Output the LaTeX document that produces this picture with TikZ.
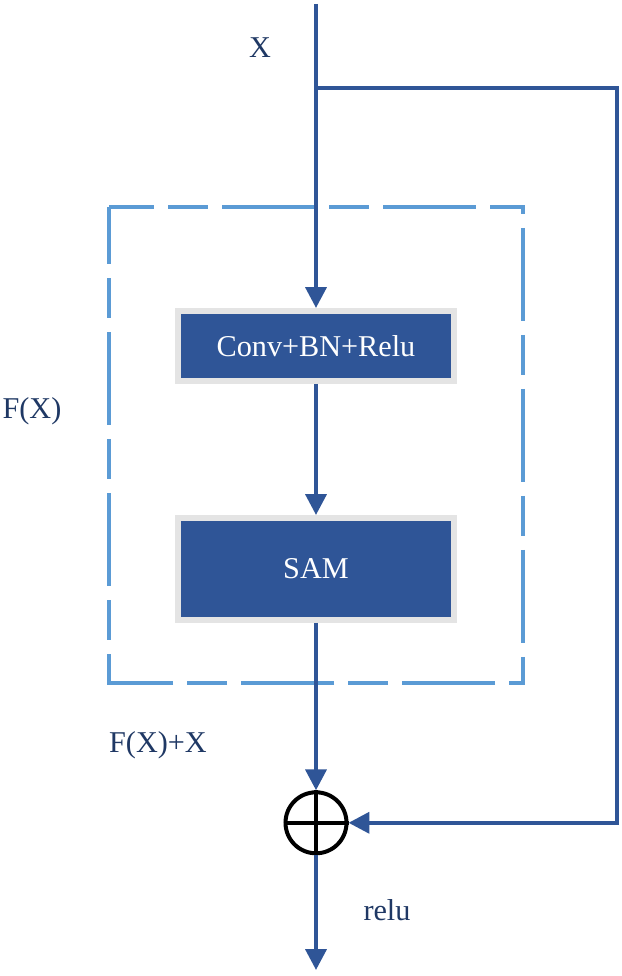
\documentclass[tikz,border=0pt]{standalone}
\usepackage{fontspec}
\setmainfont{Liberation Serif}
\usepackage{tikz}
\usetikzlibrary{positioning, arrows.meta, calc}

\definecolor{flowblue}{RGB}{47,85,151}
\definecolor{dashblue}{RGB}{91,155,213}
\definecolor{labelblue}{RGB}{31,56,100}
\definecolor{rimgray}{RGB}{228,228,228}

\begin{document}
\begin{tikzpicture}[
  >={Triangle[length=0.52cm, width=0.52cm]},
  every node/.style={font=\fontsize{21.5}{26}\selectfont},
  flow/.style={draw=flowblue, line width=2.85pt},
  layerbox/.style={rectangle, fill=flowblue, draw=rimgray, line width=0.15cm, text=white, minimum width=6.9cm},
  sumnode/.style={circle, draw=black, line width=2.85pt, minimum size=1.525cm, inner sep=0pt},
  tag/.style={text=labelblue, inner sep=0pt}
]
\useasboundingbox (0,0) rectangle (15.525,24.4);

% Block
\draw[dashblue, line width=2.5pt, dash pattern=on 2.325cm off 0.35cm on 1cm off 0.35cm, dash phase=1.2cm]
  (2.725,19.225) -- (13.075,19.225) -- (13.075,7.325) -- (2.725,7.325) -- cycle;

% Layers
\node[layerbox, minimum height=1.75cm] (conv) at (7.9,15.75) {Conv+BN+Relu};
\node[layerbox, minimum height=2.55cm] (sam) at (7.9,10.175) {SAM};
\node[sumnode] (sum) at (7.9,3.83) {};
\draw[black, line width=2.85pt] (sum.north) -- (sum.south) (sum.west) -- (sum.east);

% Input, shortcut and output
\coordinate (input) at (7.9,24.3);
\coordinate (split) at (7.9,22.2);
\coordinate (turnR) at (15.425,22.2);
\coordinate (backR) at (15.425,3.83);
\coordinate (output) at (7.9,0.15);

\draw[flow, ->] (input) -- (conv.north);
\draw[flow, ->] (conv.south) -- (sam.north);
\draw[flow, ->] (sam.south) -- (sum.north);
\draw[flow, ->, line join=miter] (split) -- (turnR) -- (backR) -- (sum.east);
\draw[flow, ->] (sum.south) -- (output);

% Labels
\node[tag] (xlab) at (6.5,23.2) {X};
\node[tag] (flab) at (0.8,14.125) {F(X)};
\node[tag] (fxlab) at (3.95,5.775) {F(X)+X};
\node[tag] (relulab) at (9.675,1.65) {relu};

\end{tikzpicture}
\end{document}
